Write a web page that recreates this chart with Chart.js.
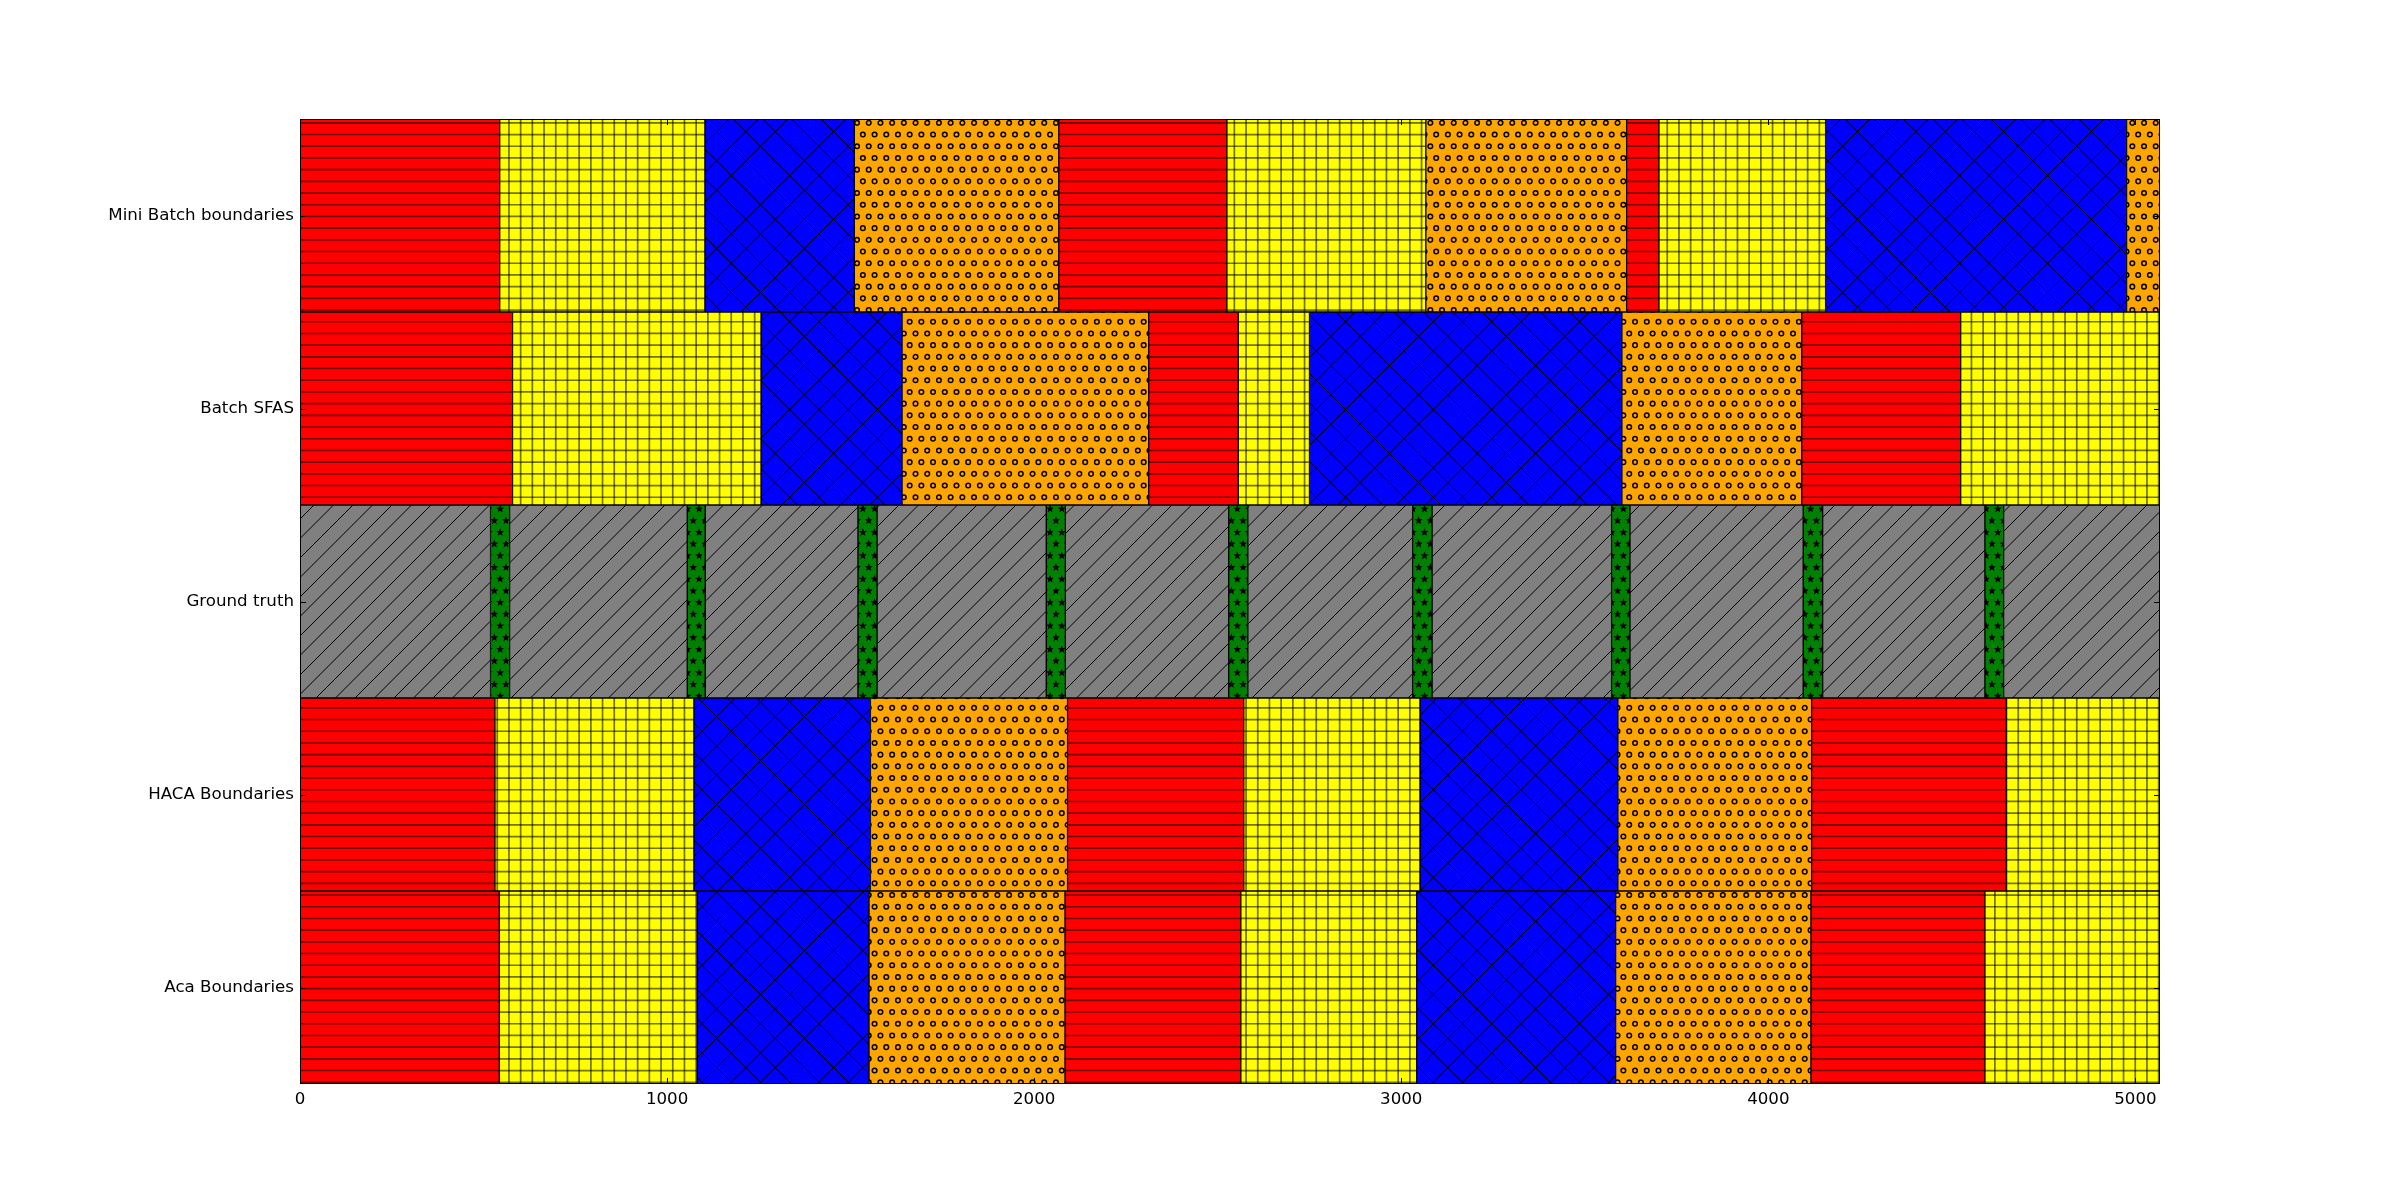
<!DOCTYPE html>
<html><head><meta charset="utf-8">
<script src="https://cdn.jsdelivr.net/npm/chart.js@4.4.0/dist/chart.umd.min.js"></script>
<style>html,body{margin:0;padding:0;background:#fff;} canvas{display:block;}</style>
</head><body>
<canvas id="c" width="2400" height="1203"></canvas>
<script>
const categories = ['Mini Batch boundaries', 'Batch SFAS', 'Ground truth', 'HACA Boundaries', 'Aca Boundaries'];
const xTickValues = [0, 1000, 2000, 3000, 4000, 5000];
const xMax = 5067;

// segment edges (frames) and segment classes for each row
const miniBatchEdges   = [0, 544, 1103, 1510, 2067, 2525, 3067, 3614, 3702, 4156, 4976, 5067];
const miniBatchClasses = ['r', 'y', 'b', 'o', 'r', 'y', 'o', 'r', 'y', 'b', 'o'];
const batchSfasEdges   = [0, 579, 1256, 1640, 2312, 2556, 2750, 3601, 4091, 4524, 5067];
const batchSfasClasses = ['r', 'y', 'b', 'o', 'r', 'y', 'b', 'o', 'r', 'y'];
const groundTruthEdges   = [0, 519, 571, 1055, 1104, 1520, 1572, 2033, 2085, 2530, 2582, 3031, 3084, 3573, 3623, 4095, 4148, 4590, 4641, 5067];
const groundTruthClasses = ['g', 's', 'g', 's', 'g', 's', 'g', 's', 'g', 's', 'g', 's', 'g', 's', 'g', 's', 'g', 's', 'g'];
const hacaEdges   = [0, 531, 1073, 1554, 2091, 2571, 3051, 3590, 4118, 4648, 5067];
const hacaClasses = ['r', 'y', 'b', 'o', 'r', 'y', 'b', 'o', 'r', 'y'];
const acaEdges   = [0, 543, 1082, 1550, 2084, 2563, 3042, 3584, 4116, 4590, 5067];
const acaClasses = ['r', 'y', 'b', 'o', 'r', 'y', 'b', 'o', 'r', 'y'];

const rows = [
  [miniBatchEdges, miniBatchClasses],
  [batchSfasEdges, batchSfasClasses],
  [groundTruthEdges, groundTruthClasses],
  [hacaEdges, hacaClasses],
  [acaEdges, acaClasses]
];

const canvas = document.getElementById('c');
const mainCtx = canvas.getContext('2d');
const T = 117;

function makePattern(bg, draw) {
  const c = document.createElement('canvas');
  c.width = T; c.height = T;
  const x = c.getContext('2d');
  x.fillStyle = bg; x.fillRect(0, 0, T, T);
  draw(x);
  return mainCtx.createPattern(c, 'repeat');
}
function hLines(x, n, style, w) {
  const s = T / n;
  x.strokeStyle = style; x.lineWidth = w;
  x.beginPath();
  for (let i = 0; i < n; i++) { const y = i * s + s / 2; x.moveTo(0, y); x.lineTo(T, y); }
  x.stroke();
}
function vLines(x, n, style, w) {
  const s = T / n;
  x.strokeStyle = style; x.lineWidth = w;
  x.beginPath();
  for (let i = 0; i < n; i++) { const xx = i * s + s / 2; x.moveTo(xx, 0); x.lineTo(xx, T); }
  x.stroke();
}
function diag(x, n, up, style, w) {
  const p = T / n;
  x.strokeStyle = style; x.lineWidth = w;
  x.beginPath();
  for (let k = -n - 1; k <= n + 1; k++) {
    if (up) { x.moveTo(k * p, T); x.lineTo(k * p + T, 0); }
    else { x.moveTo(k * p, 0); x.lineTo(k * p + T, T); }
  }
  x.stroke();
}
function stagger(x, n, drawOne) {
  const s = T / n;
  for (let i = 0; i < n; i++) {
    for (let j = 0; j < n; j++) {
      const cx = j * s + (i % 2 ? 0.75 : 0.25) * s;
      const cy = i * s + s / 2;
      drawOne(cx, cy);
    }
  }
}

const patterns = {
  r: makePattern('#ff0000', x => hLines(x, 10, 'rgba(0,0,0,0.55)', 1.6)),
  y: makePattern('#ffff00', x => { hLines(x, 10, 'rgba(0,0,0,0.55)', 1.7); vLines(x, 10, 'rgba(0,0,0,0.55)', 1.7); }),
  b: makePattern('#0000ff', x => { diag(x, 4, true, '#000', 1); diag(x, 4, false, '#000', 1); }),
  o: makePattern('#ffa500', x => {
    x.strokeStyle = '#000'; x.lineWidth = 1.5;
    stagger(x, 10, (cx, cy) => { x.beginPath(); x.arc(cx, cy, 2.3, 0, Math.PI * 2); x.stroke(); });
  }),
  g: makePattern('#808080', x => diag(x, 6, true, '#000', 1)),
  s: makePattern('#008000', x => {
    x.fillStyle = '#000';
    stagger(x, 10, (cx, cy) => {
      x.beginPath();
      for (let k = 0; k < 10; k++) {
        const r = k % 2 ? 1.8 : 4.2;
        const a = -Math.PI / 2 + k * Math.PI / 5;
        const px = cx + r * Math.cos(a), py = cy + r * Math.sin(a);
        if (k === 0) x.moveTo(px, py); else x.lineTo(px, py);
      }
      x.closePath(); x.fill();
    });
  })
};

const maxSeg = Math.max(...rows.map(r => r[1].length));
const datasets = [];
for (let k = 0; k < maxSeg; k++) {
  datasets.push({
    data: rows.map(([e, c]) => k < c.length ? [e[k], e[k + 1]] : null),
    backgroundColor: rows.map(([e, c]) => k < c.length ? patterns[c[k]] : 'rgba(0,0,0,0)'),
    borderColor: '#000',
    borderWidth: 1,
    borderSkipped: false,
    barPercentage: 1,
    categoryPercentage: 1,
    grouped: false
  });
}

const framePlugin = {
  id: 'frame',
  afterDatasetsDraw(chart) {
    const { ctx, chartArea: a, scales: { x, y } } = chart;
    ctx.save();
    ctx.strokeStyle = '#000';
    ctx.lineWidth = 1;
    ctx.beginPath();
    xTickValues.forEach(v => {
      const px = Math.round(x.getPixelForValue(v)) + 0.5;
      ctx.moveTo(px, a.bottom); ctx.lineTo(px, a.bottom - 6);
      ctx.moveTo(px, a.top); ctx.lineTo(px, a.top + 6);
    });
    categories.forEach((c, i) => {
      const py = Math.round(y.getPixelForValue(i)) + 0.5;
      ctx.moveTo(a.left, py); ctx.lineTo(a.left + 6, py);
      ctx.moveTo(a.right, py); ctx.lineTo(a.right - 6, py);
    });
    ctx.stroke();
    ctx.strokeRect(a.left + 0.5, a.top + 0.5, a.right - a.left - 1, a.bottom - a.top - 1);
    ctx.restore();
  }
};

Chart.defaults.font.family = "'DejaVu Sans', sans-serif";
Chart.defaults.font.size = 16.67;
Chart.defaults.color = '#000';

new Chart(mainCtx, {
  type: 'bar',
  data: { labels: categories, datasets },
  options: {
    indexAxis: 'y',
    responsive: false,
    animation: false,
    devicePixelRatio: 1,
    layout: { padding: { top: 119, right: 240, left: 0, bottom: 0 } },
    plugins: { legend: { display: false }, tooltip: { enabled: false } },
    scales: {
      x: {
        type: 'linear', min: 0, max: xMax,
        grid: { display: false, drawTicks: false },
        border: { display: false },
        ticks: { padding: 6, maxRotation: 0, color: '#000', callback: v => String(v) },
        afterBuildTicks: s => { s.ticks = xTickValues.map(v => ({ value: v })); },
        afterFit: s => { s.height = 119; }
      },
      y: {
        type: 'category',
        grid: { display: false, drawTicks: false },
        border: { display: false },
        ticks: { padding: 6, color: '#000' },
        afterFit: s => { s.width = 300; }
      }
    }
  },
  plugins: [framePlugin]
});
</script>
</body></html>
